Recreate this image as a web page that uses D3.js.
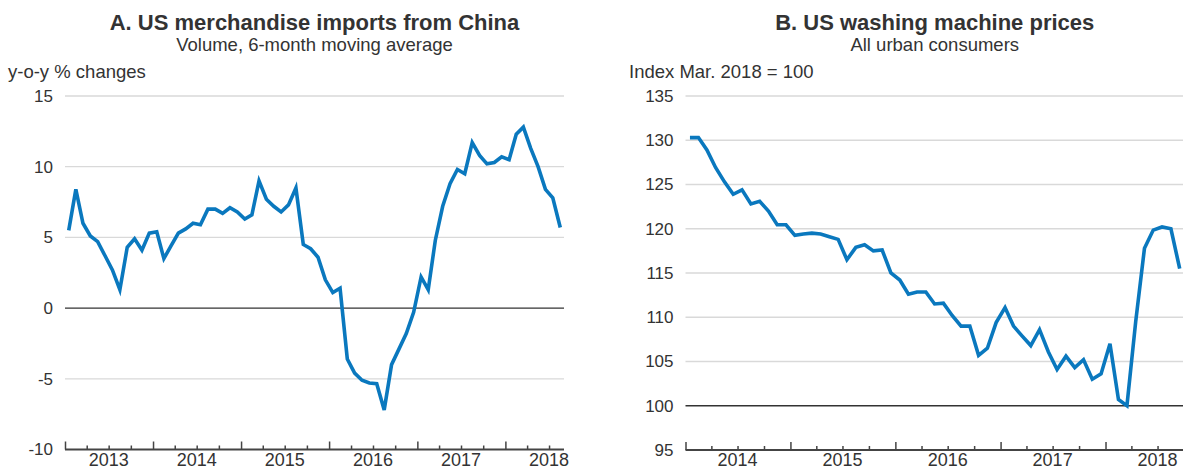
<!DOCTYPE html>
<html>
<head>
<meta charset="utf-8">
<script src="https://cdnjs.cloudflare.com/ajax/libs/d3/7.8.5/d3.min.js"></script>
<style>
  body { margin: 0; background: #fff; }
  svg text { font-family: "Liberation Sans", Arial, Helvetica, sans-serif; fill: #333; }
</style>
</head>
<body>
<div class="chart"></div>
<script>
  // panel A: monthly, Jan 2013 - Aug 2018
  var importsStart = new Date(2013, 0, 1);
  var importsValues = [
    5.5, 8.4, 6.0, 5.1, 4.7, 3.7, 2.7, 1.3, 4.3, 4.9, 4.1, 5.3,
    5.4, 3.5, 4.4, 5.3, 5.6, 6.0, 5.9, 7.0, 7.0, 6.7, 7.1, 6.8,
    6.3, 6.6, 9.0, 7.7, 7.2, 6.8, 7.3, 8.5, 4.5, 4.2, 3.6, 2.0,
    1.1, 1.4, -3.6, -4.6, -5.1, -5.3, -5.35, -7.2, -4.0, -2.9, -1.8, -0.3,
    2.2, 1.3, 4.8, 7.2, 8.8, 9.8, 9.5, 11.7, 10.8, 10.2, 10.3, 10.7,
    10.5, 12.3, 12.8, 11.3, 10.0, 8.4, 7.8, 5.7
  ];
  var importsTicks = [-10, -5, 0, 5, 10, 15];
  var importsYears = [2013, 2014, 2015, 2016, 2017, 2018];

  // panel B: monthly, Jan 2014 - Sep 2018
  var washerStart = new Date(2014, 0, 1);
  var washerValues = [
    130.3, 130.3, 128.9, 126.9, 125.3, 123.9, 124.4, 122.8, 123.1, 122.0, 120.45, 120.45,
    119.25, 119.4, 119.5, 119.4, 119.1, 118.8, 116.5, 117.9, 118.2, 117.5, 117.6, 115.0,
    114.2, 112.6, 112.85, 112.85, 111.5, 111.6, 110.2, 109.0, 109.0, 105.7, 106.5, 109.4,
    111.1, 109.0, 107.9, 106.8, 108.6, 106.1, 104.1, 105.6, 104.3, 105.2, 103.0, 103.6,
    107.0, 100.7, 100.0, 109.5, 117.8, 119.85, 120.2, 120.0, 115.5
  ];
  var washerTicks = [95, 100, 105, 110, 115, 120, 125, 130, 135];
  var washerYears = [2014, 2015, 2016, 2017, 2018];

  var width = 1183;
  var height = 469;
  var lineColor = '#0a78be';

  var svg = d3.select('.chart')
    .append('svg')
    .attr('width', width)
    .attr('height', height);

  // turn a start month and a list of values into points at mid-month
  function monthly(start, values) {
    return values.map(function(v, i) {
      var m0 = d3.timeMonth.offset(start, i);
      var m1 = d3.timeMonth.offset(start, i + 1);
      return { date: new Date((+m0 + +m1) / 2), value: v };
    });
  }

  function drawPanel(opt) {
    var g = svg.append('g');
    var x = d3.scaleTime().domain(opt.xDomain).range([opt.left, opt.right]);
    var y = d3.scaleLinear().domain(opt.yDomain).range([opt.bottom, opt.top]);

    // titles
    var cx = (opt.left + opt.right) / 2;
    g.append('text')
      .attr('x', cx).attr('y', 30)
      .attr('text-anchor', 'middle')
      .style('font-size', '22px').style('font-weight', 'bold')
      .text(opt.title);
    g.append('text')
      .attr('x', cx).attr('y', 51)
      .attr('text-anchor', 'middle')
      .style('font-size', '18.5px')
      .text(opt.subtitle);
    g.append('text')
      .attr('x', opt.unitX).attr('y', 78)
      .style('font-size', '18.5px')
      .text(opt.unit);

    // horizontal gridlines, the reference line is dark
    g.selectAll('.grid')
      .data(opt.yTicks.filter(function(d) { return d !== opt.yDomain[0]; }))
      .enter()
      .append('line')
      .attr('x1', opt.left).attr('x2', opt.right)
      .attr('y1', function(d) { return y(d); })
      .attr('y2', function(d) { return y(d); })
      .attr('stroke', function(d) { return d === opt.refLine ? '#333' : '#d9d9d9'; })
      .attr('stroke-width', 1.3);

    // y tick labels
    g.selectAll('.ylab')
      .data(opt.yTicks)
      .enter()
      .append('text')
      .attr('x', opt.left - 12)
      .attr('y', function(d) { return y(d); })
      .attr('dy', '0.35em')
      .attr('text-anchor', 'end')
      .style('font-size', '17px')
      .text(function(d) { return d; });

    // x axis: years as long ticks, quarters as short ones, all pointing up
    var quarters = d3.timeMonth.every(3).range(opt.xDomain[0], opt.xDomain[1])
      .filter(function(d) { return d.getMonth() !== 0; });
    var years = d3.timeYear.range(opt.xDomain[0], opt.xDomain[1]);

    var axisMinor = d3.axisBottom(x).tickValues(quarters).tickSize(-4).tickFormat('');
    var axisMajor = d3.axisBottom(x).tickValues(years).tickSize(-8).tickFormat('');

    [axisMinor, axisMajor].forEach(function(ax) {
      var a = g.append('g')
        .attr('transform', 'translate(0,' + opt.bottom + ')')
        .call(ax);
      a.select('.domain').remove();
      a.selectAll('line').attr('stroke', '#444').attr('stroke-width', 1.5);
    });

    g.append('line')
      .attr('x1', opt.left).attr('x2', opt.right)
      .attr('y1', opt.bottom).attr('y2', opt.bottom)
      .attr('stroke', '#444')
      .attr('stroke-width', 2);

    // year labels sit in the middle of each year
    g.selectAll('.xlab')
      .data(opt.years)
      .enter()
      .append('text')
      .attr('x', function(d) { return x(new Date(d, 6, 1)); })
      .attr('y', 466)
      .attr('text-anchor', 'middle')
      .style('font-size', '18px')
      .text(function(d) { return d; });

    var line = d3.line()
      .x(function(d) { return x(d.date); })
      .y(function(d) { return y(d.value); });

    g.append('path')
      .datum(opt.data)
      .attr('d', line)
      .attr('fill', 'none')
      .attr('stroke', lineColor)
      .attr('stroke-width', 3.6)
      .attr('stroke-linejoin', 'miter');
  }

  drawPanel({
    title: 'A. US merchandise imports from China',
    subtitle: 'Volume, 6-month moving average',
    unit: 'y-o-y % changes',
    unitX: 8,
    left: 65, right: 564, top: 96, bottom: 449.5,
    xDomain: [new Date(2013, 0, 1), new Date(2018, 8, 1)],
    yDomain: [-10, 15],
    yTicks: importsTicks,
    refLine: 0,
    years: importsYears,
    data: monthly(importsStart, importsValues)
  });

  drawPanel({
    title: 'B. US washing machine prices',
    subtitle: 'All urban consumers',
    unit: 'Index Mar. 2018 = 100',
    unitX: 629,
    left: 685.5, right: 1184, top: 96, bottom: 450,
    xDomain: [new Date(2014, 0, 1), new Date(2018, 9, 1)],
    yDomain: [95, 135],
    yTicks: washerTicks,
    refLine: 100,
    years: washerYears,
    data: monthly(washerStart, washerValues)
  });
</script>
</body>
</html>
